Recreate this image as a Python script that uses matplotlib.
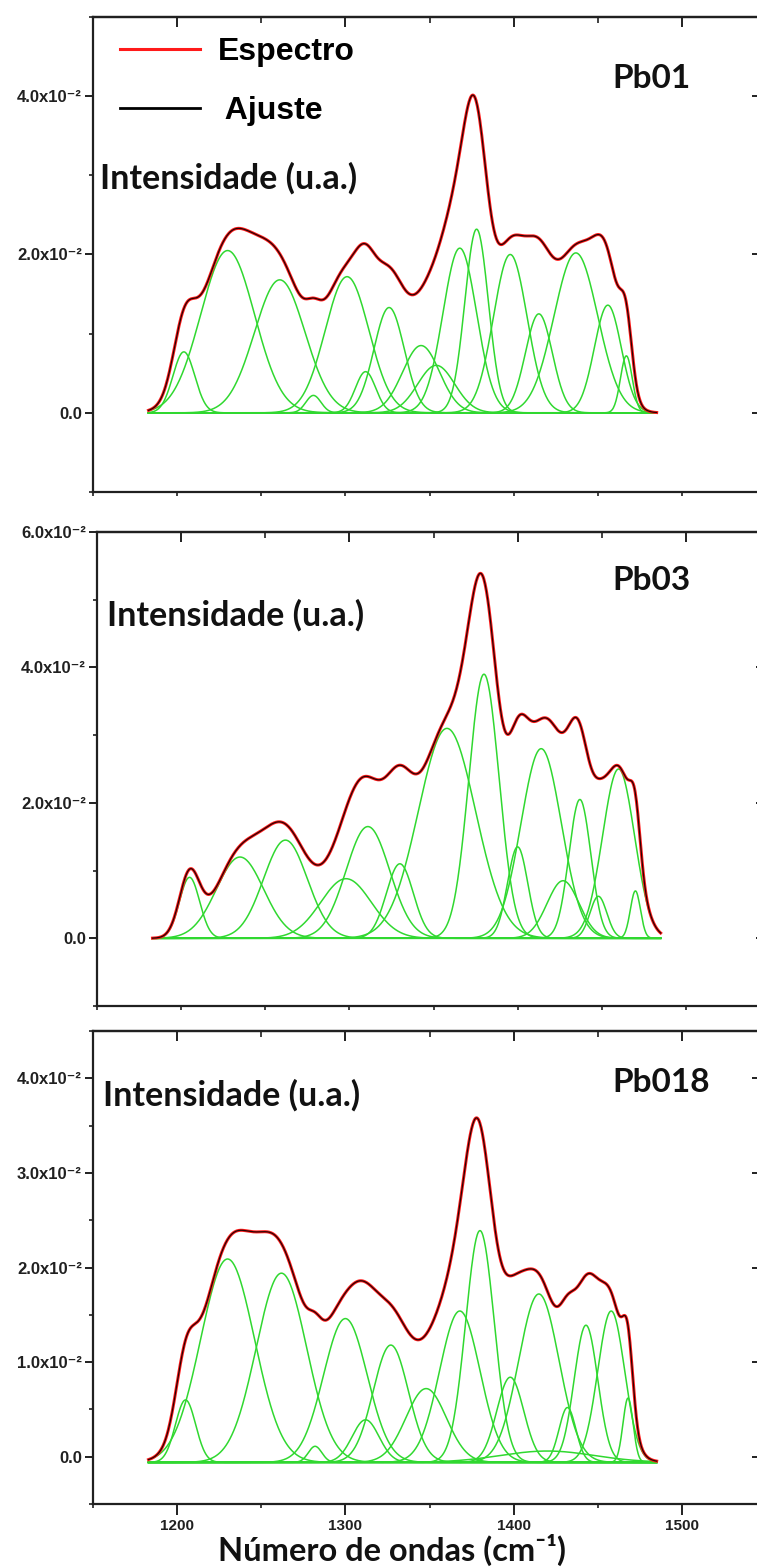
import numpy as np
import matplotlib.pyplot as plt
from matplotlib.lines import Line2D
from matplotlib.ticker import MultipleLocator, FixedLocator, FixedFormatter

W, H = 757, 1567

# faixa medida do espectro (cm-1)
wn_ini, wn_fim = 1183, 1485

# componentes gaussianas: centro (cm-1), altura, sigma (cm-1)
pb01_centro = [1204, 1230, 1261, 1281, 1301, 1312, 1326, 1345, 1354, 1368, 1378, 1398, 1415, 1437, 1456, 1467]
pb01_altura = [0.0077, 0.0205, 0.0168, 0.0022, 0.0172, 0.0052, 0.0133, 0.0085, 0.0060, 0.0208, 0.0232, 0.0200, 0.0125, 0.0202, 0.0136, 0.0072]
pb01_sigma = [6.5, 16, 15, 4.5, 13, 6, 9, 11, 11, 10, 7, 10, 8, 13, 8, 3.5]

pb03_centro = [1205, 1235, 1262, 1298, 1311, 1330, 1358, 1380, 1400, 1414, 1427, 1437, 1448, 1460, 1470]
pb03_altura = [0.0090, 0.0120, 0.0145, 0.0088, 0.0165, 0.0110, 0.0310, 0.0390, 0.0135, 0.0280, 0.0085, 0.0205, 0.0062, 0.0250, 0.0070]
pb03_sigma = [6, 14, 13, 15, 13, 8, 17, 9, 6, 12, 9.5, 6.5, 5, 9.5, 3]

pb018_centro = [1205, 1230, 1262, 1282, 1300, 1312, 1327, 1348, 1368, 1380, 1398, 1415, 1420, 1432, 1443, 1458, 1468]
pb018_altura = [0.0066, 0.0215, 0.0200, 0.0017, 0.0152, 0.0045, 0.0124, 0.0078, 0.0160, 0.0245, 0.0090, 0.0178, 0.0012, 0.0058, 0.0145, 0.0160, 0.0068]
pb018_sigma = [6, 16, 15, 4, 13, 8, 10.5, 12, 12, 8.5, 8, 12, 28, 5, 7, 8, 3]

amostras = ['Pb01', 'Pb03', 'Pb018']
linha_base = [0.0, 0.0, -0.0006]
y_lims = [(-0.01, 0.05), (-0.01, 0.06), (-0.005, 0.045)]
y_major = [[0.0, 0.02, 0.04], [0.0, 0.02, 0.04, 0.06], [0.0, 0.01, 0.02, 0.03, 0.04]]
y_minor = [0.01, 0.01, 0.005]
x_ticks = [1200, 1300, 1400, 1500]

# caixas dos eixos em pixels (esq, topo, baixo); o lado direito sai da figura
caixas = [(93, 17, 492), (97, 532, 1006), (93, 1031, 1504)]
larg_px = 673

componentes = [(pb01_centro, pb01_altura, pb01_sigma),
               (pb03_centro, pb03_altura, pb03_sigma),
               (pb018_centro, pb018_altura, pb018_sigma)]

verde = '#30d830'
cinza = '#202020'
fonte_tick = ['Liberation Sans', 'DejaVu Sans']
fonte_txt = ['Lato', 'DejaVu Sans']


def rotulo(v):
    if abs(v) < 1e-12:
        return '0.0'
    return '%.1fx10⁻²' % (v * 100)


fig = plt.figure(figsize=(W / 100, H / 100), dpi=100)
fig.patch.set_facecolor('white')

x = np.linspace(wn_ini, wn_fim, 800)

for i in range(3):
    l, t, b = caixas[i]
    ax = fig.add_axes([l / W, 1 - b / H, larg_px / W, (b - t) / H])
    ax.set_xlim(1150, 1550)
    ax.set_ylim(*y_lims[i])

    cen, alt, sig = componentes[i]
    total = np.zeros_like(x)
    for c, h, s in zip(cen, alt, sig):
        g = h * np.exp(-0.5 * ((x - c) / s) ** 2)
        total += g
        ax.plot(x, linha_base[i] + g, color=verde, lw=1.1, zorder=2)
    ax.plot(x, linha_base[i] + total, color='#ff1a1a', lw=2.2, zorder=3)
    ax.plot(x, linha_base[i] + total, color='black', lw=0.9, alpha=0.85, zorder=4)

    for sp in ax.spines.values():
        sp.set_linewidth(1.6)
        sp.set_color(cinza)

    ax.yaxis.set_major_locator(FixedLocator(y_major[i]))
    ax.yaxis.set_major_formatter(FixedFormatter([rotulo(v) for v in y_major[i]]))
    ax.yaxis.set_minor_locator(MultipleLocator(y_minor[i]))
    ax.tick_params(axis='y', which='major', direction='out', length=6, width=1.4,
                   color=cinza, labelsize=12, pad=2, labelcolor=cinza)
    ax.tick_params(axis='y', which='minor', direction='out', length=3, width=1.2, color=cinza)
    for lab in ax.get_yticklabels():
        lab.set_family(fonte_tick)
        lab.set_fontweight('bold')

    ax.xaxis.set_major_locator(FixedLocator(x_ticks))
    ax.xaxis.set_minor_locator(MultipleLocator(50))
    if i == 2:
        ax.tick_params(axis='x', which='major', direction='out', length=8, width=1.4,
                       color=cinza, labelsize=11, pad=3, labelcolor=cinza)
        ax.tick_params(axis='x', which='minor', direction='out', length=3, width=1.2, color=cinza)
        for lab in ax.get_xticklabels():
            lab.set_family(fonte_tick)
            lab.set_fontweight('bold')
    else:
        ax.tick_params(axis='x', which='both', direction='out', length=3, width=1.2,
                       color=cinza, labelbottom=False)

    topo = ax.secondary_xaxis('top')
    topo.xaxis.set_major_locator(FixedLocator(x_ticks))
    topo.xaxis.set_minor_locator(MultipleLocator(50))
    topo.tick_params(which='major', direction='in', length=7, width=1.4, color=cinza, labeltop=False)
    topo.tick_params(which='minor', direction='in', length=4, width=1.2, color=cinza)
    topo.spines['top'].set_linewidth(1.6)
    topo.spines['top'].set_color(cinza)

    dir_ = ax.secondary_yaxis('right')
    dir_.yaxis.set_major_locator(FixedLocator(y_major[i]))
    dir_.tick_params(which='major', direction='in', length=10, width=1.4, color=cinza, labelright=False)

    # textos do painel
    y_int = [178, 615, 1095][i]
    x_int = [100, 107, 103][i]
    fig.text(x_int / W, 1 - y_int / H, 'Intensidade (u.a.)', family=fonte_txt,
             fontweight='bold', fontsize=24.5, va='center', ha='left', color='#111111')
    y_am = [78, 580, 1082][i]
    fig.text(612 / W, 1 - y_am / H, amostras[i], family=fonte_txt,
             fontweight='bold', fontsize=24, va='center', ha='left', color='#111111')

    if i == 0:
        alcas = [Line2D([], [], color='#ff1a1a', lw=2.2), Line2D([], [], color='black', lw=2.0)]
        ax.legend(alcas, ['Espectro', ' Ajuste'], loc='upper left',
                  bbox_to_anchor=(120 / W, 1 - 37 / H), bbox_transform=fig.transFigure,
                  frameon=False, handlelength=2.5, handletextpad=0.55, labelspacing=0.9,
                  borderpad=0, borderaxespad=0,
                  prop={'family': fonte_tick, 'weight': 'bold', 'size': 23})

fig.text(392 / W, 1 - 1550 / H, 'Número de ondas (cm⁻¹)', family=fonte_txt,
         fontweight='bold', fontsize=23.5, va='center', ha='center', color='#111111')

fig.savefig('out.png', dpi=100, facecolor='white')
